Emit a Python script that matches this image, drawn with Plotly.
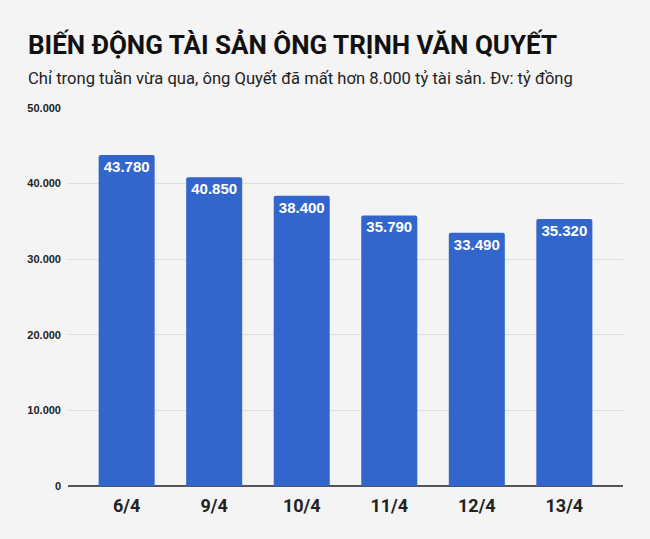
import plotly.graph_objects as go

# Data (ty dong)
dates = ["6/4", "9/4", "10/4", "11/4", "12/4", "13/4"]
assets = [43780, 40850, 38400, 35790, 33490, 35320]
y_ticks = [0, 10000, 20000, 30000, 40000, 50000]

BLUE = "#3366CC"
BG = "#F4F4F4"
FONT = "Liberation Sans, Arial, sans-serif"
TITLE_FONT = "Roboto, Liberation Sans, sans-serif"

fig = go.Figure(
    go.Bar(
        x=dates,
        y=assets,
        marker=dict(color=BLUE, line=dict(width=0), cornerradius=2),
        texttemplate="%{y:,}",
        textposition="inside",
        insidetextanchor="end",
        textangle=0,
        textfont=dict(family=FONT, size=15, color="white", weight="bold"),
        cliponaxis=False,
        hoverinfo="skip",
    )
)

fig.update_layout(
    width=650,
    height=539,
    paper_bgcolor=BG,
    plot_bgcolor=BG,
    separators=",.",
    bargap=0.36,
    showlegend=False,
    margin=dict(l=68, r=27, t=108, b=53),
    font=dict(family=FONT, color="#222222"),
)

fig.update_xaxes(
    type="category",
    range=[-0.67, 5.67],
    showgrid=False,
    showline=False,
    ticks="",
    ticklabelstandoff=7,
    tickfont=dict(family=TITLE_FONT, size=18, color="#222222", weight="bold"),
)

fig.update_yaxes(
    range=[0, 50000],
    tickvals=y_ticks,
    tickformat=",d",
    showgrid=True,
    gridcolor="#DEDEDE",
    gridwidth=1,
    zeroline=True,
    zerolinecolor="#555555",
    zerolinewidth=1.5,
    showline=False,
    ticks="",
    ticklabelstandoff=6,
    tickfont=dict(family=FONT, size=11, color="#222222", weight="bold"),
)

fig.add_annotation(
    text="<b>BIẾN ĐỘNG TÀI SẢN ÔNG TRỊNH VĂN QUYẾT</b>",
    xref="paper", yref="paper", x=-42 / 555, y=1 + 63 / 378,
    xanchor="left", yanchor="middle", showarrow=False,
    font=dict(family=TITLE_FONT, size=26, color="#111111"),
)
fig.add_annotation(
    text="Chỉ trong tuần vừa qua, ông Quyết đã mất hơn 8.000 tỷ tài sản. Đv: tỷ đồng",
    xref="paper", yref="paper", x=-42 / 555, y=1 + 30 / 378,
    xanchor="left", yanchor="middle", showarrow=False,
    font=dict(family=TITLE_FONT, size=16.6, color="#222222"),
)

fig.write_html("out.html", config={"displayModeBar": False},
               post_script="document.body.style.margin='0';")
